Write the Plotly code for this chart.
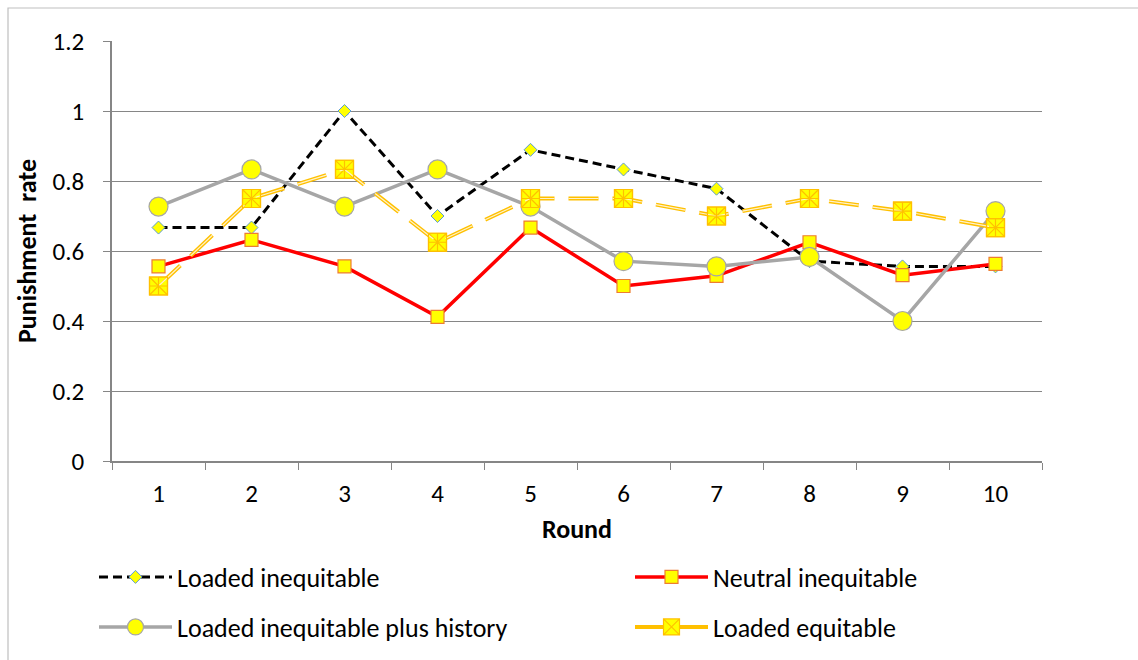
import plotly.graph_objects as go

rounds = ["1", "2", "3", "4", "5", "6", "7", "8", "9", "10"]
loaded_inequitable = [0.667, 0.667, 1.0, 0.70, 0.889, 0.833, 0.778, 0.571, 0.556, 0.556]
neutral_inequitable = [0.556, 0.632, 0.556, 0.412, 0.667, 0.50, 0.529, 0.625, 0.531, 0.563]
loaded_plus_history = [0.727, 0.833, 0.727, 0.833, 0.727, 0.571, 0.556, 0.583, 0.40, 0.714]
loaded_equitable = [0.50, 0.75, 0.833, 0.625, 0.75, 0.75, 0.70, 0.75, 0.714, 0.667]

FONT = "Carlito, Calibri, Lato, sans-serif"
W, H = 1138, 660

fig = go.Figure()

fig.add_trace(go.Scatter(
    x=rounds, y=loaded_inequitable, name="Loaded inequitable", mode="lines+markers",
    line=dict(color="#000000", width=3, dash="9px,5px"),
    marker=dict(symbol="diamond", size=10, color="#FFFF00", line=dict(color="#5B9BD5", width=1)),
    legend="legend",
))
fig.add_trace(go.Scatter(
    x=rounds, y=neutral_inequitable, name="Neutral inequitable", mode="lines+markers",
    line=dict(color="#FF0000", width=3.5),
    marker=dict(symbol="square", size=13, color="#FFFF00", line=dict(color="#ED7D31", width=1.2)),
    legend="legend2",
))
fig.add_trace(go.Scatter(
    x=rounds, y=loaded_plus_history, name="Loaded inequitable plus history", mode="lines+markers",
    line=dict(color="#A6A6A6", width=3.5),
    marker=dict(symbol="circle", size=19, color="#FFFF00", line=dict(color="#A6A6A6", width=1.2)),
    legend="legend3",
))
fig.add_trace(go.Scatter(
    x=rounds, y=loaded_equitable, name="Loaded equitable", mode="lines+markers",
    line=dict(color="#FFC000", width=4, dash="30px,14px"),
    marker=dict(symbol="square-x", size=18, color="#FFFF00", line=dict(color="#FFC000", width=1.2)),
    legend="legend4",
))
fig.add_trace(go.Scatter(
    x=rounds, y=loaded_equitable, name="Loaded equitable", mode="lines+markers", showlegend=False,
    line=dict(color="#FFF2CC", width=1.2, dash="30px,14px"),
    marker=dict(symbol="square-cross", size=18, color="rgba(0,0,0,0)", line=dict(color="#FFC000", width=1.2)),
    hoverinfo="skip",
))

legend_common = dict(
    orientation="h", xref="container", yref="container", xanchor="left", yanchor="middle",
    itemwidth=73, font=dict(family=FONT, size=26, color="#000000"), bgcolor="rgba(0,0,0,0)",
    itemclick=False,
)
col1, col2 = 94, 630
row1, row2 = 577, 627

fig.update_layout(
    width=W, height=H,
    margin=dict(l=112, r=96, t=41, b=199),
    paper_bgcolor="white", plot_bgcolor="white",
    font=dict(family=FONT, color="#000000"),
    showlegend=True,
    legend=dict(x=col1 / W, y=1 - row1 / H, **legend_common),
    legend2=dict(x=col2 / W, y=1 - row1 / H, **legend_common),
    legend3=dict(x=col1 / W, y=1 - row2 / H, **legend_common),
    legend4=dict(x=col2 / W, y=1 - row2 / H, **legend_common),
    xaxis=dict(
        type="category", range=[-0.5, 9.5], tickson="boundaries",
        ticks="outside", ticklen=7, tickcolor="#868686", tickwidth=1,
        showline=True, linecolor="#868686", linewidth=1.5, showgrid=False,
        tickfont=dict(family=FONT, size=25), ticklabelstandoff=9,
        title=dict(text="<b>Round</b>", font=dict(family=FONT, size=26), standoff=12),
        zeroline=False,
    ),
    yaxis=dict(
        range=[0, 1.2], dtick=0.2, tick0=0,
        ticks="outside", ticklen=7, tickcolor="#868686", tickwidth=1,
        showline=True, linecolor="#868686", linewidth=1.5,
        showgrid=True, gridcolor="#868686", gridwidth=1, zeroline=False,
        tickfont=dict(family=FONT, size=25), ticklabelstandoff=14,
        title=dict(text="<b>Punishment\u00a0 rate</b>", font=dict(family=FONT, size=26), standoff=8),
    ),
    shapes=[dict(type="rect", xref="paper", yref="paper",
                 x0=-104 / 930, x1=1.2, y0=-0.6, y1=(461 - 8) / 420,
                 line=dict(color="#BFBFBF", width=1.2), fillcolor="rgba(0,0,0,0)", layer="below")],
)

fig.write_html("out.html", config={"displayModeBar": False},
               post_script="document.body.style.margin='0';")
